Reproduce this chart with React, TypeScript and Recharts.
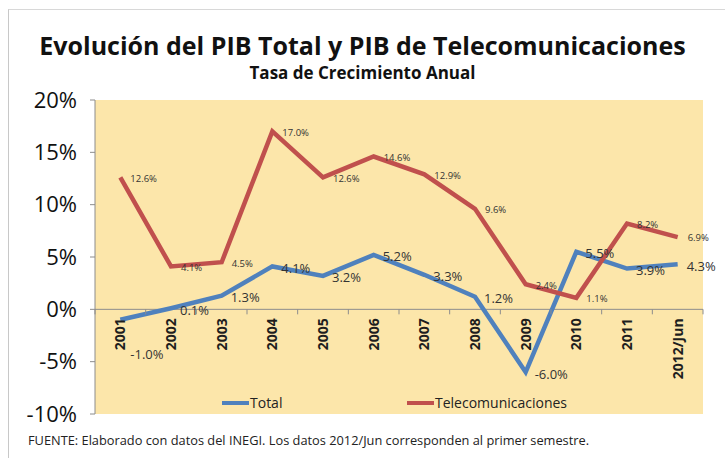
import React from 'react';
import { LineChart, Line, XAxis, YAxis, ReferenceLine, LabelList } from 'recharts';

const years = ['2001', '2002', '2003', '2004', '2005', '2006', '2007', '2008', '2009', '2010', '2011', '2012/Jun'];
const totalValues = [-1.0, 0.1, 1.3, 4.1, 3.2, 5.2, 3.3, 1.2, -6.0, 5.5, 3.9, 4.3];
const telecomValues = [12.6, 4.1, 4.5, 17.0, 12.6, 14.6, 12.9, 9.6, 2.4, 1.1, 8.2, 6.9];
const yTicks = [-10, -5, 0, 5, 10, 15, 20];

const data = years.map((year, i) => ({
    year,
    total: totalValues[i],
    telecom: telecomValues[i],
}));

const W = 725;
const H = 458;
const TOP = 100;
const PLOT_H = 314;
const LEFT = 95;
const RIGHT = 22;
const BAND = (W - LEFT - RIGHT) / years.length;
const ZERO_Y = TOP + PLOT_H * (20 / 30);
const FONT = '"Open Sans", "DejaVu Sans", sans-serif';
const BLUE = '#4F81BD';
const RED = '#C0504D';

const YearTick = (props: any) => {
    const { x, payload, index } = props;
    const last = index === years.length - 1;
    return (
        <g>
            <line x1={x - BAND / 2} y1={ZERO_Y} x2={x - BAND / 2} y2={ZERO_Y + 5} stroke="#8c8c8c" />
            {last && <line x1={x + BAND / 2} y1={ZERO_Y} x2={x + BAND / 2} y2={ZERO_Y + 5} stroke="#8c8c8c" />}
            <text
                x={x}
                y={ZERO_Y + 9}
                dy="0.36em"
                transform={`rotate(-90, ${x}, ${ZERO_Y + 9})`}
                textAnchor="end"
                fontFamily={FONT}
                fontWeight="bold"
                fontSize={14}
                fill="#1e1e1e"
            >
                {payload.value}
            </text>
        </g>
    );
};

const TotalLabel = (props: any) => {
    const { x, y, value, index } = props;
    const below = index === 0;
    return (
        <text
            x={below ? x + 10 : x + 9}
            y={below ? y + 35 : y + 2}
            dy="0.35em"
            fontFamily={FONT}
            fontSize={13}
            fill="#333"
        >
            {`${value.toFixed(1)}%`}
        </text>
    );
};

const TelecomLabel = (props: any) => {
    const { x, y, value } = props;
    return (
        <text x={x + 10} y={y + 1} dy="0.35em" fontFamily={FONT} fontSize={9.5} fill="#333">
            {`${value.toFixed(1)}%`}
        </text>
    );
};

const legendItem = (left: number, color: string, label: string) => (
    <div style={{ position: 'absolute', left, top: 393, display: 'flex', alignItems: 'center', fontFamily: FONT, fontSize: 14, color: '#222' }}>
        <span style={{ display: 'inline-block', width: 27, height: 4, background: color, marginRight: 1 }} />
        {label}
    </div>
);

export default function App() {
    return (
        <div style={{ position: 'absolute', left: 0, top: 0, width: W, height: H, background: '#fff', overflow: 'hidden' }}>
            <div
                style={{
                    position: 'absolute',
                    left: 8,
                    top: 9,
                    width: W,
                    height: H,
                    borderLeft: '1px solid #c8c8c8',
                    borderTop: '1px solid #d8d8d8',
                }}
            />
            <div
                style={{
                    position: 'absolute',
                    left: LEFT,
                    top: TOP,
                    width: W - LEFT - RIGHT,
                    height: PLOT_H,
                    background: '#FCE6AA',
                }}
            />
            <div
                style={{
                    position: 'absolute',
                    top: 28,
                    width: W,
                    textAlign: 'center',
                    fontFamily: FONT,
                    fontWeight: 'bold',
                    fontSize: 25,
                    color: '#111',
                }}
            >
                Evolución del PIB Total y PIB de Telecomunicaciones
            </div>
            <div
                style={{
                    position: 'absolute',
                    top: 61,
                    width: W,
                    textAlign: 'center',
                    fontFamily: FONT,
                    fontWeight: 'bold',
                    fontSize: 17,
                    color: '#111',
                }}
            >
                Tasa de Crecimiento Anual
            </div>
            <div
                style={{
                    position: 'absolute',
                    left: 28,
                    top: 431,
                    fontFamily: FONT,
                    fontSize: 12.8,
                    color: '#222',
                }}
            >
                FUENTE: Elaborado con datos del INEGI. Los datos 2012/Jun corresponden al primer semestre.
            </div>
            {legendItem(222, BLUE, 'Total')}
            {legendItem(407, RED, 'Telecomunicaciones')}
            <div style={{ position: 'absolute', left: 0, top: 0 }}>
                <LineChart width={W} height={H} data={data} margin={{ top: TOP, right: RIGHT, left: 0, bottom: 14 }}>
                    <YAxis
                        width={LEFT}
                        domain={[-10, 20]}
                        ticks={yTicks}
                        interval={0}
                        tickFormatter={(v: number) => `${v}%`}
                        tick={{ fontSize: 22, fill: '#111', fontFamily: FONT }}
                        tickSize={5}
                        tickMargin={13}
                        axisLine={{ stroke: '#8c8c8c' }}
                        tickLine={{ stroke: '#8c8c8c' }}
                    />
                    <XAxis
                        dataKey="year"
                        height={30}
                        axisLine={false}
                        tickLine={false}
                        interval={0}
                        padding={{ left: BAND / 2, right: BAND / 2 }}
                        tick={<YearTick />}
                    />
                    <ReferenceLine y={0} stroke="#8c8c8c" />
                    <Line
                        type="linear"
                        dataKey="total"
                        name="Total"
                        stroke={BLUE}
                        strokeWidth={4.5}
                        dot={false}
                        isAnimationActive={false}
                    >
                        <LabelList dataKey="total" content={<TotalLabel />} />
                    </Line>
                    <Line
                        type="linear"
                        dataKey="telecom"
                        name="Telecomunicaciones"
                        stroke={RED}
                        strokeWidth={4.5}
                        dot={false}
                        isAnimationActive={false}
                    >
                        <LabelList dataKey="telecom" content={<TelecomLabel />} />
                    </Line>
                </LineChart>
            </div>
        </div>
    );
}
